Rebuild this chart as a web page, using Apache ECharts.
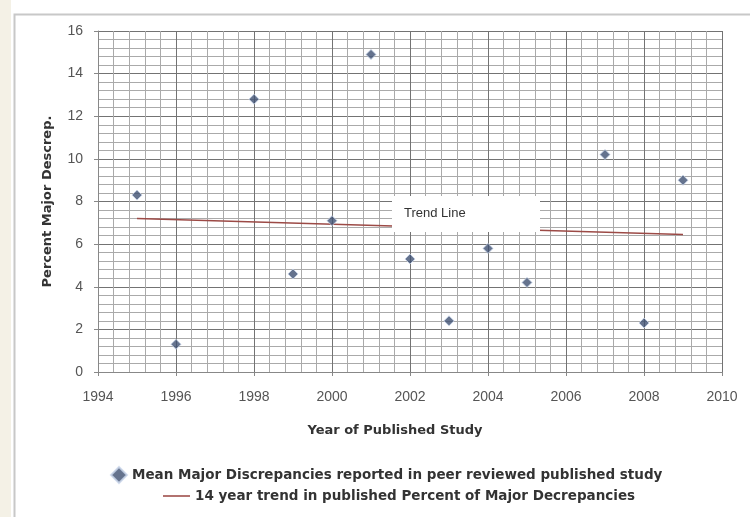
<!DOCTYPE html>
<html>
<head>
<meta charset="utf-8">
<script src="https://cdn.jsdelivr.net/npm/echarts@6/dist/echarts.min.js"></script>
<style>
html,body{margin:0;padding:0;background:#fff;}
#chart{width:750px;height:517px;}
</style>
</head>
<body>
<div id="chart"></div>
<script>
var years = [1995, 1996, 1998, 1999, 2000, 2001, 2002, 2003, 2004, 2005, 2007, 2008, 2009];
var discrepancies = [8.3, 1.3, 12.8, 4.6, 7.1, 14.9, 5.3, 2.4, 5.8, 4.2, 10.2, 2.3, 9.0];
var trendYears = [1995, 2009];
var trendValues = [7.2, 6.45];
var seriesNames = ['Mean Major Discrepancies reported in peer reviewed published study', '14 year trend in published Percent of Major Decrepancies'];
var xTitle = 'Year of Published Study';
var yTitle = 'Percent Major Descrep.';
var trendLabel = 'Trend Line';

var chart = echarts.init(document.getElementById('chart'));
var font = 'Liberation Sans, Arial, sans-serif';
var boldFont = 'DejaVu Sans, sans-serif';
var option = {
  backgroundColor: '#ffffff',
  animation: false,
  grid: {left: 98, right: 28, top: 31, bottom: 145},
  xAxis: {
    type: 'value', min: 1994, max: 2010, interval: 2,
    name: xTitle, nameLocation: 'middle', nameGap: 52,
    nameTextStyle: {fontFamily: boldFont, fontWeight: 'bold', fontSize: 13, color: '#333', padding: [0, 30, 0, 0]},
    axisLine: {show: true, lineStyle: {color: '#888'}},
    axisTick: {show: true, length: 4, lineStyle: {color: '#888'}},
    axisLabel: {fontFamily: font, fontSize: 14, color: '#555', margin: 18, formatter: function (v) { return String(v); }},
    splitLine: {show: true, lineStyle: {color: '#737373', width: 1}},
    minorTick: {show: false, splitNumber: 5},
    minorSplitLine: {show: true, lineStyle: {color: '#aaaaaa', width: 1}}
  },
  yAxis: {
    type: 'value', min: 0, max: 16, interval: 2,
    name: yTitle, nameLocation: 'middle', nameGap: 44,
    nameTextStyle: {fontFamily: boldFont, fontWeight: 'bold', fontSize: 13, color: '#333'},
    axisLine: {show: true, lineStyle: {color: '#888'}},
    axisTick: {show: true, length: 4, lineStyle: {color: '#888'}},
    axisLabel: {fontFamily: font, fontSize: 14, color: '#555', margin: 15},
    splitLine: {show: true, lineStyle: {color: '#737373', width: 1}},
    minorTick: {show: false, splitNumber: 5},
    minorSplitLine: {show: true, lineStyle: {color: '#aaaaaa', width: 1}}
  },
  legend: [
    {data: [{name: seriesNames[0], icon: 'diamond'}], left: 105, top: 461, itemWidth: 16, itemHeight: 16, itemGap: 4,
     textStyle: {fontFamily: boldFont, fontWeight: 'bold', fontSize: 13.5, color: '#333'}},
    {data: [{name: seriesNames[1], icon: 'path://M0,9L26,9L26,10.5L0,10.5Z'}], left: 158, top: 484, itemWidth: 27, itemHeight: 11, itemGap: 4,
     textStyle: {fontFamily: boldFont, fontWeight: 'bold', fontSize: 13.5, color: '#333'}}
  ],
  series: [
    {
      name: seriesNames[0], type: 'scatter', symbol: 'diamond', symbolSize: 10,
      itemStyle: {color: '#3f5072', borderColor: '#c8d4ea', borderWidth: 1},
      data: years.map(function (y, i) { return [y, discrepancies[i]]; }),
      z: 5
    },
    {
      name: seriesNames[1], type: 'line', symbol: 'none',
      lineStyle: {color: '#9c4a46', width: 1.5},
      itemStyle: {color: '#9c4a46'},
      data: trendYears.map(function (y, i) { return [y, trendValues[i]]; }),
      z: 4
    }
  ],
  graphic: [
    {type: 'rect', left: 12, top: 12, shape: {width: 740, height: 510}, style: {fill: 'none', stroke: '#c8c8c8', lineWidth: 2}, silent: true, z: 10},
    {type: 'rect', left: 0, top: 0, shape: {width: 11, height: 517}, style: {fill: '#f4f1e6'}, silent: true, z: 10},
    {type: 'rect', left: 392, top: 196, shape: {width: 148, height: 36}, style: {fill: '#ffffff'}, silent: true, z: 20},
    {type: 'text', left: 404, top: 207, style: {text: trendLabel, font: '13px ' + font, fill: '#333'}, silent: true, z: 21}
  ]
};
chart.setOption(option);
</script>
</body>
</html>
